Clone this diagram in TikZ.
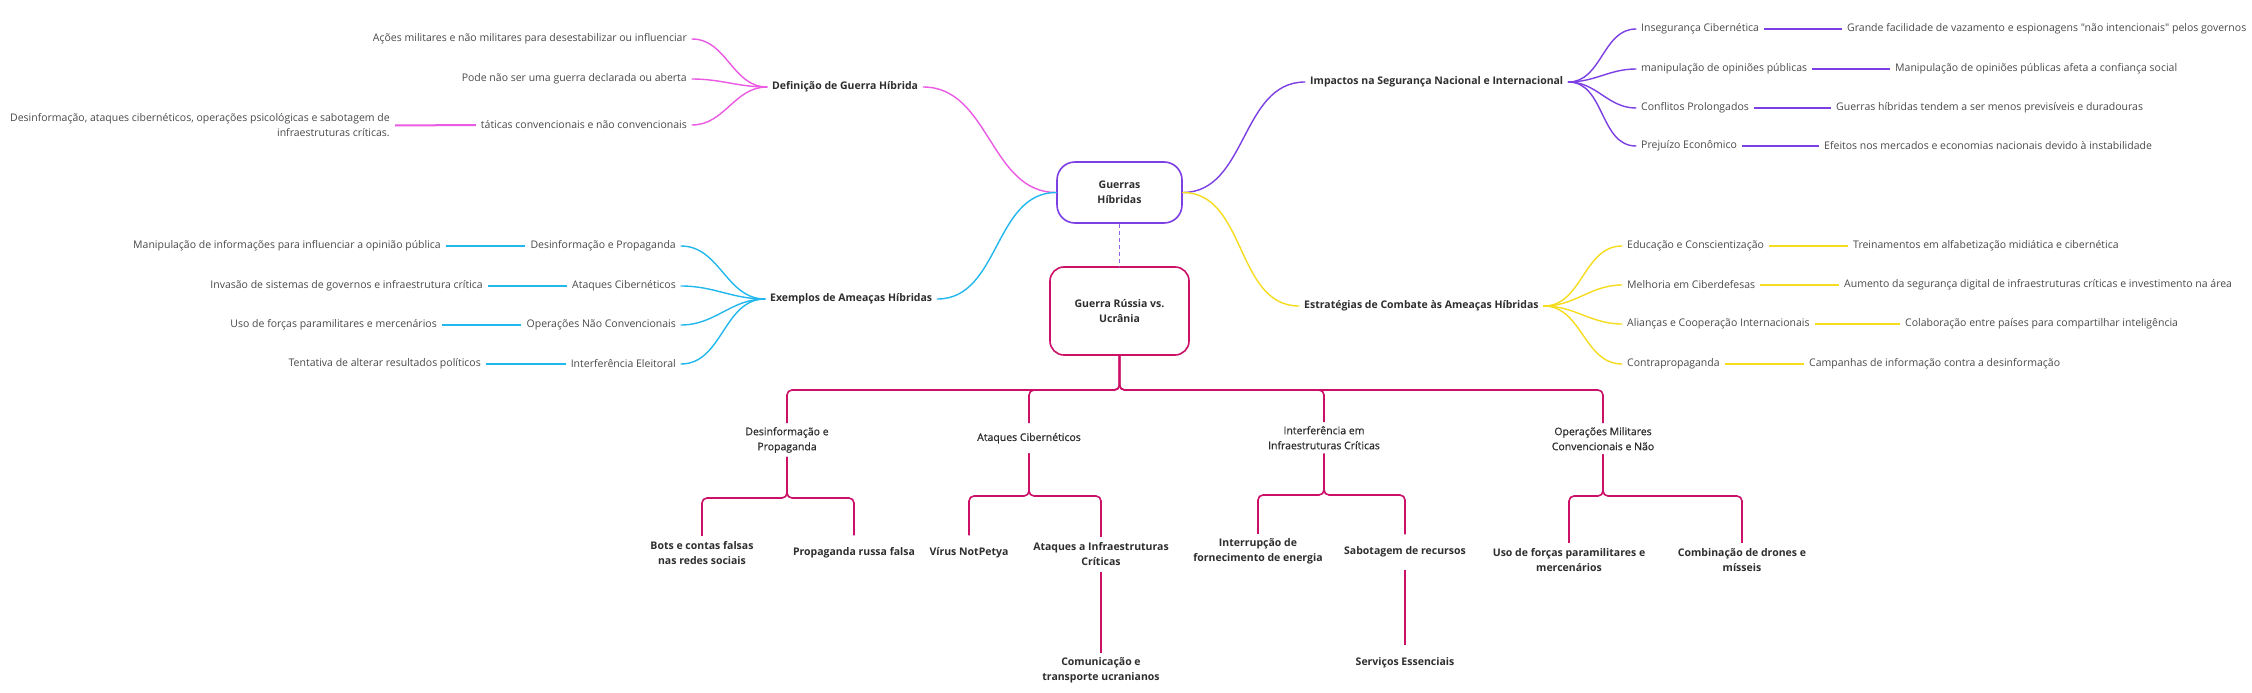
\documentclass[tikz,border=0pt]{standalone}
\usepackage{fontspec}
\setmainfont{Open Sans}
\newfontfamily\plainfont{Open Sans}
\newfontfamily\semib{Open Sans}[FakeBold=0.5]
\definecolor{cpink}{HTML}{EA5AE2}
\definecolor{cpurp}{HTML}{7B3FE4}
\definecolor{ccyan}{HTML}{22B8EE}
\definecolor{cyell}{HTML}{F6DC1E}
\definecolor{ccrim}{HTML}{CC1068}
\definecolor{cgray}{HTML}{4A4A4A}
\definecolor{cdark}{HTML}{2E2E2E}
\begin{document}
\begin{tikzpicture}[x=1pt,y=-1pt,
  txt/.style={font=\fontsize{10.5}{15}\selectfont, text=cgray, inner xsep=5pt, inner ysep=2pt},
  lt/.style={txt, anchor=east},
  rt/.style={txt, anchor=west},
  head/.style={txt, font=\fontsize{10.5}{15}\selectfont\bfseries, text=cdark},
  mm/.style={line width=1.4pt, line cap=round},
  lk/.style={line width=2pt},
  tr/.style={draw=ccrim, line width=1.6pt, rounded corners=5pt},
  tn/.style={txt, font=\fontsize{10.5}{15}\selectfont\semib, text=cdark, align=center, inner ysep=4pt, minimum height=30pt},
  tb/.style={txt, font=\fontsize{10.5}{15}\selectfont\bfseries, text=cdark, align=center, inner ysep=4pt, minimum height=35pt}
]
\useasboundingbox[fill=white] (0,0) rectangle (2252,693);

% central nodes
\node[draw=cpurp, line width=1.6pt, rounded corners=18pt, minimum width=125pt, minimum height=61pt, align=center, font=\fontsize{10.5}{15}\selectfont\bfseries, text=cdark] (gh) at (1119.5,192.5) {Guerras\\Híbridas};
\node[draw=ccrim, line width=1.6pt, rounded corners=14pt, minimum width=139pt, minimum height=88pt, align=center, font=\fontsize{10.5}{15}\selectfont\bfseries, text=cdark] (ru) at (1119.5,311) {Guerra Rússia vs.\\Ucrânia};
\draw[cpurp!80, line width=0.8pt, dash pattern=on 4pt off 3pt] (gh.south) -- (ru.north);

% pink branch
\node[head, anchor=west] (def) at (767,87) {Definição de Guerra Híbrida};
\node[lt] (d1) at (692,39) {Ações militares e não militares para desestabilizar ou influenciar};
\node[lt] (d2) at (692,79) {Pode não ser uma guerra declarada ou aberta};
\node[lt] (d3) at (692,125) {táticas convencionais e não convencionais};
\node[lt, align=right] (d4) at (395,125.5) {Desinformação, ataques cibernéticos, operações psicológicas e sabotagem de\\infraestruturas críticas.};
\draw[mm, cpink] (gh.west) to[out=180,in=0] (def.east);
\draw[mm, cpink] (d1.east) to[out=0,in=180] (def.west);
\draw[mm, cpink] (d2.east) to[out=0,in=180] (def.west);
\draw[mm, cpink] (d3.east) to[out=0,in=180] (def.west);
\draw[lk, cpink] (d3.west) -- (d4.east);

% cyan branch
\node[head, anchor=west] (ex) at (765,299) {Exemplos de Ameaças Híbridas};
\node[lt] (e1) at (681,246) {Desinformação e Propaganda};
\node[lt] (e1a) at (446,246) {Manipulação de informações para influenciar a opinião pública};
\node[lt] (e2) at (681,286) {Ataques Cibernéticos};
\node[lt] (e2a) at (488,286) {Invasão de sistemas de governos e infraestrutura crítica};
\node[lt] (e3) at (681,325) {Operações Não Convencionais};
\node[lt] (e3a) at (442,325) {Uso de forças paramilitares e mercenários};
\node[lt] (e4) at (681,364) {Interferência Eleitoral};
\node[lt] (e4a) at (486,364) {Tentativa de alterar resultados políticos};
\draw[mm, ccyan] (gh.west) to[out=180,in=0] (ex.east);
\foreach \n in {e1,e2,e3,e4}{
  \draw[mm, ccyan] (\n.east) to[out=0,in=180] (ex.west);
  \draw[lk, ccyan] (\n.west) -- (\n a.east);
}

% purple branch
\node[head, anchor=west] (imp) at (1305,82) {Impactos na Segurança Nacional e Internacional};
\node[rt] (i1) at (1636,29) {Insegurança Cibernética};
\node[rt] (i1a) at (1842,29) {Grande facilidade de vazamento e espionagens {\plainfont "não intencionais"} pelos governos};
\node[rt] (i2) at (1636,69) {manipulação de opiniões públicas};
\node[rt] (i2a) at (1890,69) {Manipulação de opiniões públicas afeta a confiança social};
\node[rt] (i3) at (1636,108) {Conflitos Prolongados};
\node[rt] (i3a) at (1831,108) {Guerras híbridas tendem a ser menos previsíveis e duradouras};
\node[rt] (i4) at (1636,146) {Prejuízo Econômico};
\node[rt] (i4a) at (1819,146) {Efeitos nos mercados e economias nacionais devido à instabilidade};
\draw[mm, cpurp] (gh.east) to[out=0,in=180] (imp.west);
\foreach \n in {i1,i2,i3,i4}{
  \draw[mm, cpurp] (imp.east) to[out=0,in=180] (\n.west);
  \draw[lk, cpurp] (\n.east) -- (\n a.west);
}

% yellow branch
\node[head, anchor=west] (est) at (1299,306) {Estratégias de Combate às Ameaças Híbridas};
\node[rt] (s1) at (1622,246) {Educação e Conscientização};
\node[rt] (s1a) at (1848,246) {Treinamentos em alfabetização midiática e cibernética};
\node[rt] (s2) at (1622,285) {Melhoria em Ciberdefesas};
\node[rt] (s2a) at (1839,285) {Aumento da segurança digital de infraestruturas críticas e investimento na área};
\node[rt] (s3) at (1622,324) {Alianças e Cooperação Internacionais};
\node[rt] (s3a) at (1900,324) {Colaboração entre países para compartilhar inteligência};
\node[rt] (s4) at (1622,364) {Contrapropaganda};
\node[rt] (s4a) at (1804,364) {Campanhas de informação contra a desinformação};
\draw[mm, cyell] (gh.east) to[out=0,in=180] (est.west);
\foreach \n in {s1,s2,s3,s4}{
  \draw[mm, cyell] (est.east) to[out=0,in=180] (\n.west);
  \draw[lk, cyell] (\n.east) -- (\n a.west);
}

% tree
\node[tn, anchor=north] (b1) at (787,423) {Desinformação e\\Propaganda};
\node[tn, anchor=north] (b2) at (1029,423) {Ataques Cibernéticos};
\node[tn, anchor=north] (b3) at (1324,422) {Interferência em\\Infraestruturas Críticas};
\node[tn, anchor=north] (b4) at (1603,423) {Operações Militares\\Convencionais e Não};
\node[tb] (c11) at (702,553.5) {Bots e contas falsas\\nas redes sociais};
\node[tb] (c12) at (854,553) {Propaganda russa falsa};
\node[tb] (c21) at (969,553) {Vírus NotPetya};
\node[tb] (c22) at (1101,554.5) {Ataques a Infraestruturas\\Críticas};
\node[tb] (c31) at (1258,551.5) {Interrupção de\\fornecimento de energia};
\node[tb] (c32) at (1405,552) {Sabotagem de recursos};
\node[tb] (c41) at (1569,560.5) {Uso de forças paramilitares e\\mercenários};
\node[tb] (c42) at (1742,560.5) {Combinação de drones e\\mísseis};
\node[tb, anchor=north] (d22) at (1101,653) {Comunicação e\\transporte ucranianos};
\node[tb, anchor=north] (d32) at (1405,645) {Serviços Essenciais};

\coordinate (j0) at (1119.5,390);
\coordinate (j1) at (787,498);
\coordinate (j2) at (1029,496);
\coordinate (j3) at (1324,495);
\coordinate (j4) at (1603,496);
\foreach \b in {b1,b2,b3,b4}{
  \draw[tr] (ru.south) -- (j0) -| (\b.north);
}
\draw[tr] (b1.south) -- (j1) -| (c11.north);
\draw[tr] (b1.south) -- (j1) -| (c12.north);
\draw[tr] (b2.south) -- (j2) -| (c21.north);
\draw[tr] (b2.south) -- (j2) -| (c22.north);
\draw[tr] (b3.south) -- (j3) -| (c31.north);
\draw[tr] (b3.south) -- (j3) -| (c32.north);
\draw[tr] (b4.south) -- (j4) -| (c41.north);
\draw[tr] (b4.south) -- (j4) -| (c42.north);
\draw[tr] (c22.south) -- (d22.north);
\draw[tr] (c32.south) -- (d32.north);
\end{tikzpicture}
\end{document}
